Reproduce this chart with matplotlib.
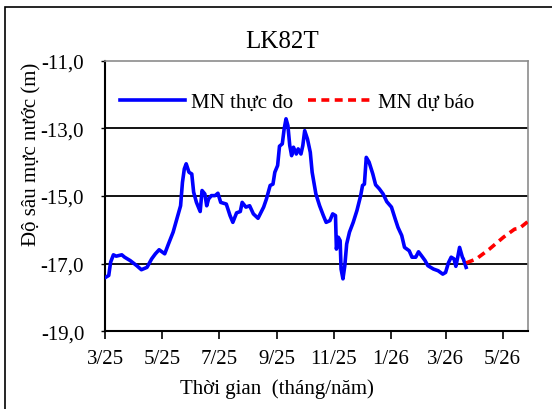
import numpy as np
import matplotlib
matplotlib.use("Agg")
import matplotlib.pyplot as plt
import matplotlib.dates as mdates
from matplotlib.patches import Rectangle

plt.rcParams['font.family'] = ['Liberation Serif', 'DejaVu Serif']

# observed water level (MN thực đo)
obs_dates = [
    '2025-03-02', '2025-03-05', '2025-03-07', '2025-03-10', '2025-03-13', '2025-03-19',
    '2025-03-22', '2025-03-28', '2025-04-04', '2025-04-09', '2025-04-15', '2025-04-20',
    '2025-04-24', '2025-04-28', '2025-05-04', '2025-05-08', '2025-05-13', '2025-05-17',
    '2025-05-21', '2025-05-23', '2025-05-25', '2025-05-27', '2025-05-30', '2025-06-02',
    '2025-06-04', '2025-06-07', '2025-06-11', '2025-06-13', '2025-06-16', '2025-06-18',
    '2025-06-20', '2025-06-23', '2025-06-27', '2025-06-30', '2025-07-03', '2025-07-09',
    '2025-07-13', '2025-07-16', '2025-07-20', '2025-07-24', '2025-07-26', '2025-07-30',
    '2025-08-03', '2025-08-07', '2025-08-12', '2025-08-18', '2025-08-21', '2025-08-25',
    '2025-08-28', '2025-08-30', '2025-09-02', '2025-09-04', '2025-09-07', '2025-09-09',
    '2025-09-11', '2025-09-13', '2025-09-15', '2025-09-17', '2025-09-19', '2025-09-22',
    '2025-09-24', '2025-09-27', '2025-09-29', '2025-10-01', '2025-10-04', '2025-10-07',
    '2025-10-09', '2025-10-13', '2025-10-17', '2025-10-21', '2025-10-24', '2025-10-28',
    '2025-10-31', '2025-11-03', '2025-11-04', '2025-11-06', '2025-11-08', '2025-11-09',
    '2025-11-11', '2025-11-13', '2025-11-15', '2025-11-18', '2025-11-22', '2025-11-26',
    '2025-11-30', '2025-12-02', '2025-12-04', '2025-12-06', '2025-12-09', '2025-12-13',
    '2025-12-16', '2025-12-20', '2025-12-24', '2025-12-28', '2026-01-02', '2026-01-06',
    '2026-01-09', '2026-01-13', '2026-01-16', '2026-01-21', '2026-01-24', '2026-01-28',
    '2026-01-31', '2026-02-03', '2026-02-07', '2026-02-10', '2026-02-16', '2026-02-21',
    '2026-02-26', '2026-03-01', '2026-03-04', '2026-03-07', '2026-03-10', '2026-03-12',
    '2026-03-14', '2026-03-16', '2026-03-19', '2026-03-20', '2026-03-23',
]
obs_level = [
    -17.40, -17.35, -16.96, -16.74, -16.78, -16.74,
    -16.81, -16.91, -17.06, -17.18, -17.11, -16.86,
    -16.71, -16.59, -16.71, -16.42, -16.07, -15.68,
    -15.29, -14.60, -14.20, -14.05, -14.30, -14.35,
    -14.89, -15.19, -15.46, -14.84, -14.94, -15.29,
    -15.09, -14.99, -14.99, -14.92, -15.19, -15.24,
    -15.58, -15.78, -15.50, -15.46, -15.19, -15.33,
    -15.29, -15.53, -15.66, -15.33, -15.09, -14.69,
    -14.65, -14.30, -14.10, -13.53, -13.46, -13.02,
    -12.72, -12.92, -13.51, -13.81, -13.56, -13.76,
    -13.61, -13.76, -13.51, -13.07, -13.32, -13.71,
    -14.30, -14.94, -15.29, -15.58, -15.78, -15.73,
    -15.53, -15.58, -16.57, -16.22, -16.32, -17.16,
    -17.45, -17.06, -16.42, -16.07, -15.78, -15.43,
    -14.99, -14.69, -14.65, -13.86, -14.00, -14.35,
    -14.67, -14.79, -14.94, -15.17, -15.33, -15.68,
    -15.93, -16.17, -16.52, -16.62, -16.81, -16.81,
    -16.65, -16.76, -16.91, -17.06, -17.16, -17.21,
    -17.31, -17.26, -16.98, -16.81, -16.86, -17.08,
    -16.81, -16.52, -16.81, -16.86, -17.11,
]

# forecast water level (MN dự báo)
fc_dates = ['2026-03-23', '2026-04-03', '2026-04-17', '2026-05-02', '2026-05-14', '2026-05-19', '2026-05-28']
fc_level = [-16.98, -16.86, -16.57, -16.22, -15.98, -15.96, -15.76]

x_ticks = ['2025-03-01', '2025-05-01', '2025-07-01', '2025-09-01', '2025-11-01', '2026-01-01', '2026-03-01', '2026-05-01']
x_labels = ['3/25', '5/25', '7/25', '9/25', '11/25', '1/26', '3/26', '5/26']
y_ticks = [-11, -13, -15, -17, -19]
y_labels = ['-11,0', '-13,0', '-15,0', '-17,0', '-19,0']
grid_levels = [-13, -15, -17]

fig = plt.figure(figsize=(5.52, 4.10), dpi=100)
ax = fig.add_axes([105 / 552, 1 - 332.3 / 410, (527.7 - 105) / 552, (332.3 - 61.6) / 410])

# outer frame (left and top edges visible)
fig.patches.append(Rectangle((5 / 552, -0.2), 1.2, 1.2 - 8 / 410, transform=fig.transFigure,
                             fill=False, edgecolor='black', linewidth=1.2, zorder=0))

for g in grid_levels:
    ax.axhline(g, color='black', linewidth=1.3, zorder=1)

ax.plot(np.array(obs_dates, dtype='datetime64[D]'), obs_level, color='#0000ff',
        linewidth=2.6, solid_joinstyle='round', label='MN thực đo', zorder=3)
ax.plot(np.array(fc_dates, dtype='datetime64[D]'), fc_level, color='#ff0000',
        linewidth=2.6, linestyle=(0, (2.2, 1.5)), label='MN dự báo', zorder=3)

ax.set_xlim(np.datetime64('2025-03-01'), np.datetime64('2026-05-28'))
ax.set_ylim(-19, -11)
ax.set_xticks(np.array(x_ticks, dtype='datetime64[D]'))
ax.set_xticklabels(x_labels)
ax.set_yticks(y_ticks)
ax.set_yticklabels(y_labels)
ax.tick_params(axis='x', direction='out', length=5.5, width=1.2, pad=7, labelsize=15)
ax.tick_params(axis='y', direction='out', length=3, width=1.0, pad=12, labelsize=15)

for side in ['left', 'bottom']:
    ax.spines[side].set_color('black')
    ax.spines[side].set_linewidth(1.5)
for side in ['top', 'right']:
    ax.spines[side].set_color('#8c8c8c')
    ax.spines[side].set_linewidth(1.2)

fig.text(282 / 552, 1 - 42 / 410, 'LK82T', fontsize=18, ha='center', va='center')
fig.text(32 / 552, 1 - 154 / 410, 'Độ sâu mực nước (m)', fontsize=15, rotation=90,
         ha='center', va='center')
fig.text(277 / 552, 1 - 389 / 410, 'Thời gian  (tháng/năm)', fontsize=15, ha='center', va='center')

fig.legend(loc='center left', bbox_to_anchor=(120 / 552, 1 - 103 / 410), ncol=2,
           frameon=False, fontsize=15, handlelength=3.1, handletextpad=0.3,
           columnspacing=0.7, borderpad=0, borderaxespad=0)

fig.savefig('out.png', dpi=100)
